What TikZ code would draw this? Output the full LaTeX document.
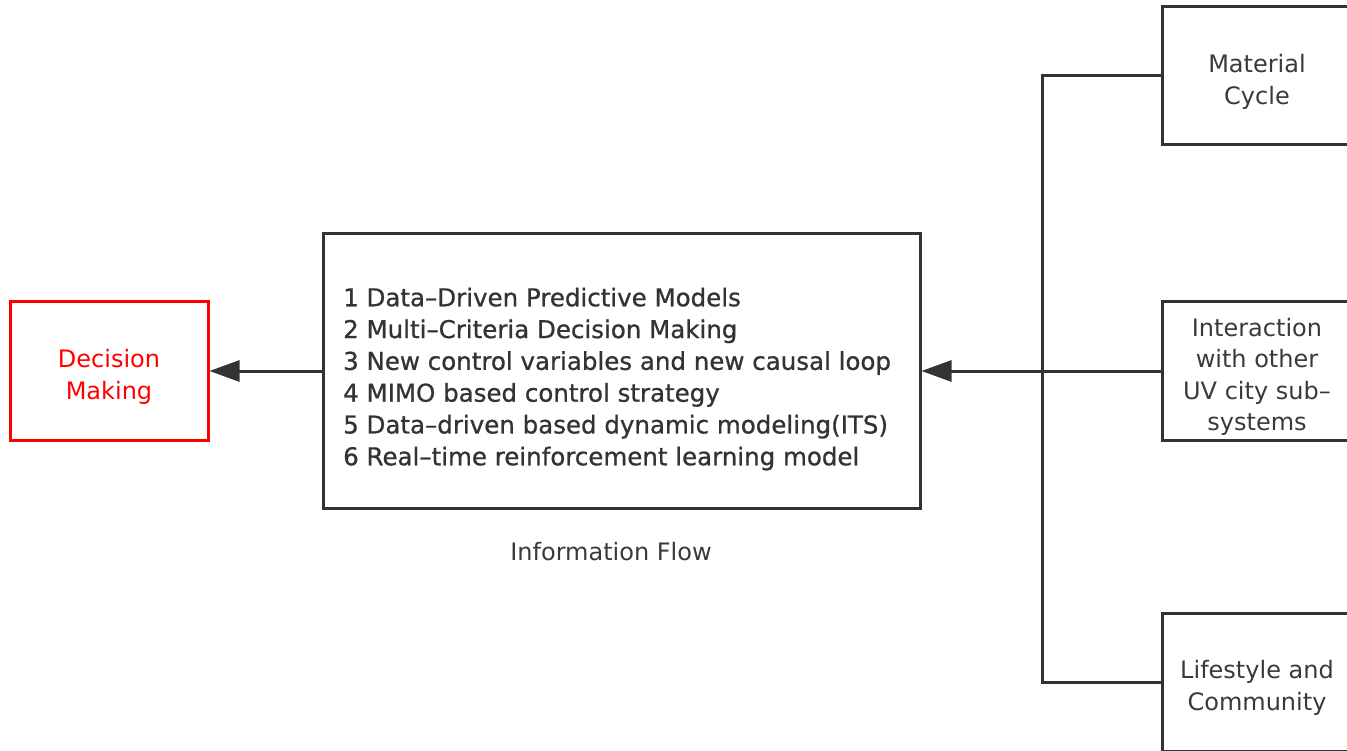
\documentclass[tikz,border=0pt]{standalone}
\usepackage{fontspec}
\setmainfont{DejaVu Sans}
\newfontfamily\listfont[FakeBold=0.8]{DejaVu Sans}
\usetikzlibrary{arrows.meta}
\definecolor{ink}{HTML}{333333}
\definecolor{txt}{HTML}{3A3A3A}
\definecolor{dmred}{HTML}{FF0000}
\tikzset{
  box/.style={draw=ink, line width=3pt, minimum width=190pt, minimum height=138pt, inner sep=0pt},
  redbox/.style={draw=dmred, line width=3pt, minimum width=198pt, minimum height=138pt, inner sep=0pt},
  lbl/.style={align=center, inner sep=0pt, text=txt, font=\fontsize{24}{31.5}\selectfont},
  conn/.style={draw=ink, line width=3pt, line join=miter},
  arr/.style={conn, -{Triangle[length=30pt,width=21pt]}},
}
\begin{document}
\begin{tikzpicture}[x=1pt,y=-1pt]
\useasboundingbox (0,0) rectangle (1347,751);
\fill[white] (0,0) rectangle (1347,751);
\node[redbox] (dm) at (109,371) {};
\node[lbl, text=dmred] (dmt) at ([yshift=-6pt]dm.center) {Decision\\Making};
\node[draw=ink, line width=3pt, minimum width=597pt, minimum height=274pt, inner sep=0pt] (mid) at (621.5,371) {};
\node[anchor=west, align=left, inner sep=0pt, text=ink, font=\listfont\fontsize{24.5}{31.8}\selectfont] (list) at (343,379) {1 Data–Driven Predictive Models\\
2 Multi–Criteria Decision Making\\
3 New control variables and new causal loop\\
4 MIMO based control strategy\\
5 Data–driven based dynamic modeling(ITS)\\
6 Real–time reinforcement learning model};
\node[lbl] (flow) at (611,552) {Information Flow};
\node[box] (mc) at (1257,76) {};
\node[lbl] (mct) at ([yshift=-6pt]mc.center) {Material\\Cycle};
\node[box] (ia) at (1257,371) {};
\node[lbl] (iat) at ([yshift=-6pt]ia.center) {Interaction\\with other\\UV city sub–\\systems};
\node[box] (lc) at (1257,682) {};
\node[lbl] (lct) at ([yshift=-6pt]lc.center) {Lifestyle and\\Community};
\coordinate (jt) at (1042,76);
\coordinate (jb) at (1042,682);
\draw[conn] (mc.west) -- (jt) -- (jb) -- (lc.west);
\draw[arr] (ia.west) -- (mid.east);
\draw[arr] (mid.west) -- (dm.east);
\end{tikzpicture}
\end{document}
